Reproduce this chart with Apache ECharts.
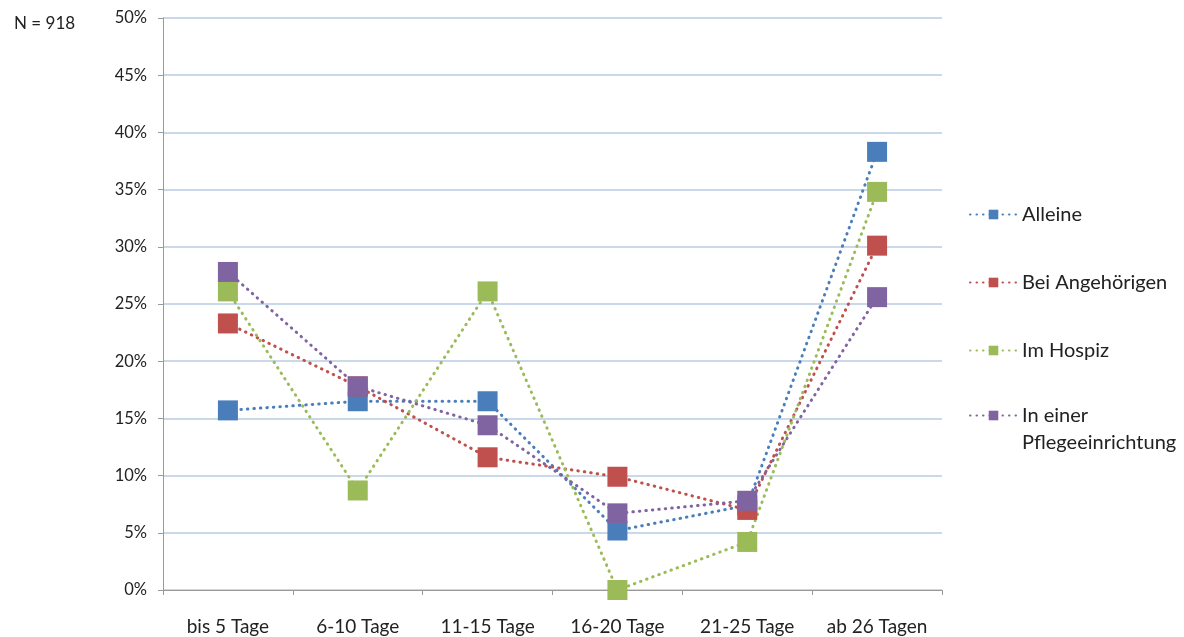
<!DOCTYPE html>
<html>
<head>
<meta charset="utf-8">
<script src="https://cdn.jsdelivr.net/npm/echarts@6/dist/echarts.min.js"></script>
<style>
html,body{margin:0;padding:0;background:#fff;}
#chart{width:1184px;height:637px;}
</style>
</head>
<body>
<div id="chart"></div>
<script>
const categories = ['bis 5 Tage', '6-10 Tage', '11-15 Tage', '16-20 Tage', '21-25 Tage', 'ab 26 Tagen'];
const alleine = [15.7, 16.5, 16.5, 5.2, 7.4, 38.3];
const beiAngehoerigen = [23.3, 17.8, 11.6, 9.9, 7.0, 30.1];
const imHospiz = [26.1, 8.7, 26.1, 0.0, 4.2, 34.8];
const pflegeeinrichtung = [27.8, 17.8, 14.4, 6.7, 7.8, 25.6];
const seriesNames = ['Alleine', 'Bei Angehörigen', 'Im Hospiz', 'In einer Pflegeeinrichtung'];
const seriesColors = ['#4a7ebb', '#c0504d', '#9bbb59', '#8064a2'];
const seriesData = [alleine, beiAngehoerigen, imHospiz, pflegeeinrichtung];
const sampleSize = 'N = 918';

const FONT = 'Lato';
const chart = echarts.init(document.getElementById('chart'), null, {renderer: 'canvas'});

const series = seriesNames.map((n, i) => ({
  name: n,
  type: 'line',
  data: seriesData[i],
  symbol: 'rect',
  symbolSize: 20,
  color: seriesColors[i],
  itemStyle: {color: seriesColors[i]},
  lineStyle: {color: seriesColors[i], width: 3, type: [0.5, 6], cap: 'round'},
  emphasis: {disabled: true},
  animation: false
}));

const legendText = {fontFamily: FONT, fontSize: 20, color: '#222', lineHeight: 27};

chart.setOption({
  backgroundColor: '#fff',
  animation: false,
  title: {
    text: sampleSize,
    left: 9,
    top: 10,
    textStyle: {fontFamily: FONT, fontSize: 17, fontWeight: 'normal', color: '#222'}
  },
  legend: [
    {
      orient: 'vertical', left: 964, top: 196,
      itemWidth: 47, itemHeight: 12, itemGap: 41,
      textStyle: legendText,
      data: seriesNames.slice(0, 3)
    },
    {
      orient: 'vertical', left: 964, top: 370,
      itemWidth: 47, itemHeight: 12, itemGap: 41,
      textStyle: legendText,
      formatter: function (name) { return '\n' + name.replace('In einer ', 'In einer\n'); },
      data: seriesNames.slice(3)
    }
  ],
  grid: {left: 163, right: 242, top: 18, bottom: 47, containLabel: false},
  xAxis: {
    type: 'category',
    data: categories,
    boundaryGap: true,
    axisLine: {lineStyle: {color: '#9a9a9a', width: 1}},
    axisTick: {show: true, length: 5, inside: false, lineStyle: {color: '#9a9a9a'}},
    axisLabel: {fontFamily: FONT, fontSize: 19, color: '#222', margin: 27, interval: 0},
    splitLine: {show: false}
  },
  yAxis: {
    type: 'value',
    min: 0,
    max: 50,
    interval: 5,
    axisLine: {show: true, lineStyle: {color: '#9a9a9a', width: 1}},
    axisTick: {show: true, length: 5, lineStyle: {color: '#9a9a9a'}},
    axisLabel: {fontFamily: FONT, fontSize: 16.5, color: '#222', margin: 16, formatter: '{value}%'},
    splitLine: {show: true, lineStyle: {color: '#b9cde3', width: 1.5}}
  },
  series: series
});
</script>
</body>
</html>
